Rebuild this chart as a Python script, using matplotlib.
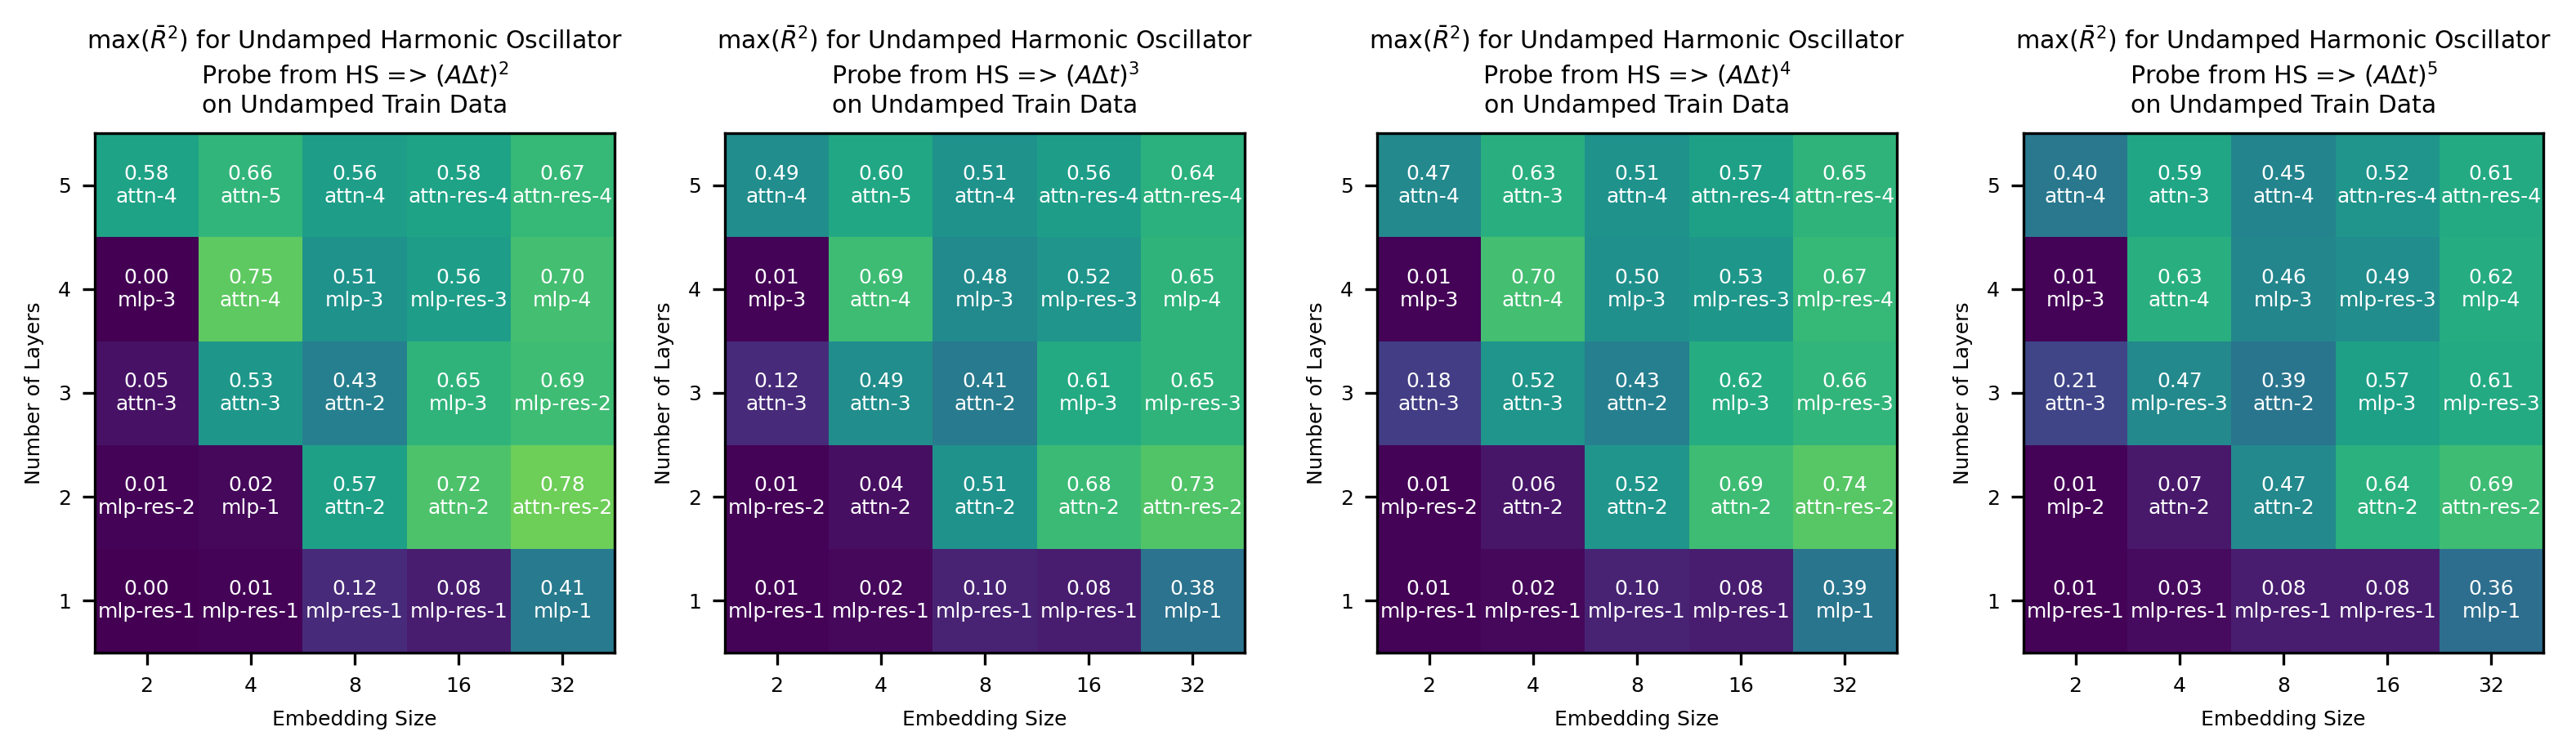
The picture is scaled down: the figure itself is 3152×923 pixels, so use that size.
import matplotlib
matplotlib.use("Agg")
import matplotlib.pyplot as plt
import numpy as np

emb_sizes = ["2", "4", "8", "16", "32"]
n_layers = ["1", "2", "3", "4", "5"]
powers = [2, 3, 4, 5]

# rows are layers 1..5 (bottom to top), columns are embedding sizes
r2_pow2 = [[0.00, 0.01, 0.12, 0.08, 0.41],
           [0.01, 0.02, 0.57, 0.72, 0.78],
           [0.05, 0.53, 0.43, 0.65, 0.69],
           [0.00, 0.75, 0.51, 0.56, 0.70],
           [0.58, 0.66, 0.56, 0.58, 0.67]]
lbl_pow2 = [["mlp-res-1", "mlp-res-1", "mlp-res-1", "mlp-res-1", "mlp-1"],
            ["mlp-res-2", "mlp-1", "attn-2", "attn-2", "attn-res-2"],
            ["attn-3", "attn-3", "attn-2", "mlp-3", "mlp-res-2"],
            ["mlp-3", "attn-4", "mlp-3", "mlp-res-3", "mlp-4"],
            ["attn-4", "attn-5", "attn-4", "attn-res-4", "attn-res-4"]]

r2_pow3 = [[0.01, 0.02, 0.10, 0.08, 0.38],
           [0.01, 0.04, 0.51, 0.68, 0.73],
           [0.12, 0.49, 0.41, 0.61, 0.65],
           [0.01, 0.69, 0.48, 0.52, 0.65],
           [0.49, 0.60, 0.51, 0.56, 0.64]]
lbl_pow3 = [["mlp-res-1", "mlp-res-1", "mlp-res-1", "mlp-res-1", "mlp-1"],
            ["mlp-res-2", "attn-2", "attn-2", "attn-2", "attn-res-2"],
            ["attn-3", "attn-3", "attn-2", "mlp-3", "mlp-res-3"],
            ["mlp-3", "attn-4", "mlp-3", "mlp-res-3", "mlp-4"],
            ["attn-4", "attn-5", "attn-4", "attn-res-4", "attn-res-4"]]

r2_pow4 = [[0.01, 0.02, 0.10, 0.08, 0.39],
           [0.01, 0.06, 0.52, 0.69, 0.74],
           [0.18, 0.52, 0.43, 0.62, 0.66],
           [0.01, 0.70, 0.50, 0.53, 0.67],
           [0.47, 0.63, 0.51, 0.57, 0.65]]
lbl_pow4 = [["mlp-res-1", "mlp-res-1", "mlp-res-1", "mlp-res-1", "mlp-1"],
            ["mlp-res-2", "attn-2", "attn-2", "attn-2", "attn-res-2"],
            ["attn-3", "attn-3", "attn-2", "mlp-3", "mlp-res-3"],
            ["mlp-3", "attn-4", "mlp-3", "mlp-res-3", "mlp-res-4"],
            ["attn-4", "attn-3", "attn-4", "attn-res-4", "attn-res-4"]]

r2_pow5 = [[0.01, 0.03, 0.08, 0.08, 0.36],
           [0.01, 0.07, 0.47, 0.64, 0.69],
           [0.21, 0.47, 0.39, 0.57, 0.61],
           [0.01, 0.63, 0.46, 0.49, 0.62],
           [0.40, 0.59, 0.45, 0.52, 0.61]]
lbl_pow5 = [["mlp-res-1", "mlp-res-1", "mlp-res-1", "mlp-res-1", "mlp-1"],
            ["mlp-2", "attn-2", "attn-2", "attn-2", "attn-res-2"],
            ["attn-3", "mlp-res-3", "attn-2", "mlp-3", "mlp-res-3"],
            ["mlp-3", "attn-4", "mlp-3", "mlp-res-3", "mlp-4"],
            ["attn-4", "attn-3", "attn-4", "attn-res-4", "attn-res-4"]]

all_vals = [r2_pow2, r2_pow3, r2_pow4, r2_pow5]
all_lbls = [lbl_pow2, lbl_pow3, lbl_pow4, lbl_pow5]

W, H = 3152, 923
fig = plt.figure(figsize=(W / 300, H / 300), dpi=300)

lefts = [116, 887, 1685, 2476]
for k in range(4):
    ax = fig.add_axes([lefts[k] / W, (H - 799) / H, 636 / W, 636 / H])
    vals = np.array(all_vals[k])
    ax.imshow(vals, cmap="viridis", vmin=0, vmax=1, origin="lower", aspect="equal")
    for i in range(vals.shape[0]):
        for j in range(vals.shape[1]):
            ax.text(j, i, f"{vals[i, j]:.2f}\n{all_lbls[k][i][j]}",
                    ha="center", va="center", color="white", fontsize=6)
    ax.set_xticks(range(len(emb_sizes)))
    ax.set_xticklabels(emb_sizes, fontsize=6)
    ax.set_yticks(range(len(n_layers)))
    ax.set_yticklabels(n_layers, fontsize=6)
    ax.set_xlabel("Embedding Size", fontsize=6)
    ax.set_ylabel("Number of Layers", fontsize=6)
    ax.set_title(r"max($\bar{R}^2$) for Undamped Harmonic Oscillator" + "\n"
                 + r"Probe from HS => $(A\Delta t)^{%d}$" % powers[k] + "\n"
                 + "on Undamped Train Data", fontsize=7.2)

fig.savefig("out.png", dpi=300)
